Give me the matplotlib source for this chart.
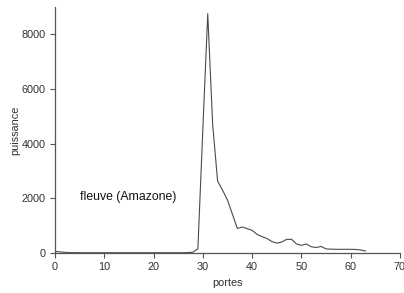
import matplotlib
matplotlib.use("Agg")
import matplotlib.pyplot as plt

portes = list(range(0, 64))
puissance = [60, 40, 25, 15, 12, 10, 10, 10, 10, 10,
             10, 10, 10, 10, 10, 10, 10, 10, 10, 10,
             10, 10, 10, 10, 10, 10, 12, 15, 30, 150,
             4500, 8750, 4700, 2630, 2300, 1940, 1420, 900, 950, 890,
             830, 680, 600, 530, 420, 360, 400, 500, 500, 330,
             280, 330, 230, 200, 240, 150, 140, 135, 135, 135,
             135, 130, 110, 75]
annotation = "fleuve (Amazone)"
xlabel = "portes"
ylabel = "puissance"

plt.rcParams['font.family'] = ['Liberation Sans', 'DejaVu Sans']
fig = plt.figure(figsize=(4.04, 2.93), dpi=100)
ax = fig.add_axes([0.136, 0.1365, 0.854, 0.84])
ax.plot(portes, puissance, color='#4a4a4a', linewidth=0.8)
ax.set_xlim(0, 70)
ax.set_ylim(0, 9000)
ax.set_xticks([0, 10, 20, 30, 40, 50, 60, 70])
ax.set_yticks([0, 2000, 4000, 6000, 8000])
for s in ['top', 'right']:
    ax.spines[s].set_visible(False)
for s in ['left', 'bottom']:
    ax.spines[s].set_color('#555555')
    ax.spines[s].set_linewidth(0.9)
ax.tick_params(direction='out', length=3.5, width=0.8, color='#555555',
               labelsize=7.8, labelcolor='#333333', pad=3)
ax.set_xlabel(xlabel, fontsize=7.8, color='#333333', labelpad=4)
ax.set_ylabel(ylabel, fontsize=7.8, color='#333333', labelpad=1)
ax.text(5.0, 2050, annotation, fontsize=8.8, color='#111111', va='center', ha='left')
fig.savefig("out.png", dpi=100)
